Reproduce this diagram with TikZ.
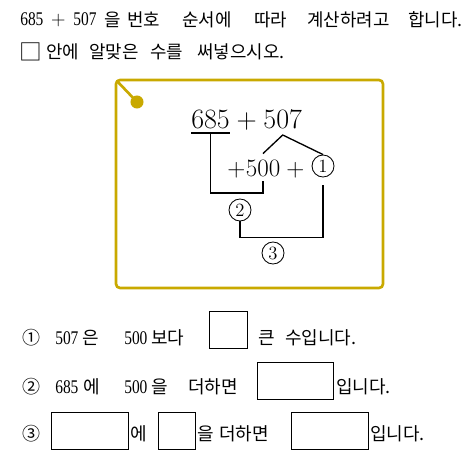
\documentclass[tikz,border=0pt]{standalone}
\usepackage{fontspec}
\newfontfamily\kr{Noto Sans CJK KR}
\newfontfamily\digs[FakeStretch=0.8]{Liberation Serif}
\usetikzlibrary{positioning}
\definecolor{framegold}{RGB}{201,169,0}
\newcommand{\krtop}{\kr\fontsize{13.4}{15}\selectfont}
\newcommand{\krbot}{\kr\fontsize{13.5}{16}\selectfont}
\newcommand{\digtop}{\digs\fontsize{14.5}{17}\selectfont}
\newcommand{\digbot}{\digs\fontsize{14.5}{17}\selectfont}
\newcommand{\plustop}{{\rmfamily\fontsize{15}{17}\selectfont +}}
\newcommand{\bigrow}{\fontsize{21}{25}\selectfont}
\newcommand{\midrow}{\fontsize{18.75}{22}\selectfont}

\begin{document}
\begin{tikzpicture}[x=0.75pt, y=-0.75pt,
    txt/.style={inner sep=0, anchor=west},
    num/.style={inner sep=0, anchor=base west},
    diagline/.style={line width=1pt},
    circnum/.style={circle, draw, line width=0.65pt, inner sep=0, minimum size=16.5pt, font=\fontsize{14}{14}\selectfont},
    ansbox/.style={draw, line width=0.75pt, inner sep=0, minimum height=27.75pt},
    goldframe/.style={draw=framegold, line width=2pt, rounded corners=3pt, inner sep=0, minimum width=200.25pt, minimum height=156pt}]
    \useasboundingbox (0,0) rectangle (473,466);

    % Question text
    \node[txt, font=\digtop] (q685) at (20,19.5) {685\hspace{.4em}\plustop\hspace{.4em}507};
    \foreach \x/\w [count=\i] in {104/을, 127/번호, 182/순서에, 254/따라, 307/계산하려고, 408/합니다.}
        \node[txt, font=\krtop] (qa\i) at (\x,19.5) {\w};
    \node[txt, font=\kr\fontsize{17}{17}\selectfont] (qbox) at (19.5,51.5) {□};
    \foreach \x/\w [count=\i] in {46/안에, 89/알맞은, 150/수를, 197/써넣으시오.}
        \node[txt, font=\krtop] (qb\i) at (\x,52) {\w};

    % Gold frame with pin
    \node[goldframe] (box) at (249.5,184) {};
    \coordinate (pin) at (137,102);
    \draw[framegold, line width=2pt] ([shift={(1.5pt,-1.5pt)}]box.north west) -- (pin);
    \fill[framegold] (pin) circle (4.9pt);

    % Sum 685 + 507
    \node[num, font=\bigrow] (n685) at (191,129) {685};
    \node[num, font=\bigrow, base right=4.65pt of n685] (pa) {+};
    \node[num, font=\bigrow, base right=4.65pt of pa] (n507) {507};

    % Split row +500+(1)
    \node[num, font=\midrow] (pb) at (227,177) {+};
    \node[num, font=\midrow, base right=0pt of pb] (n500) {500};
    \node[num, font=\midrow, base right=4.2pt of n500] (pc) {+};
    \node[circnum] (c1) at (323,166) {1};
    \node[circnum] (c2) at (240,210) {2};
    \node[circnum] (c3) at (273,253) {3};

    % Connecting lines
    \draw[diagline] ([yshift=-3pt]n685.base west) -- ([yshift=-3pt]n685.base east) coordinate[midway] (ul);
    \draw[diagline] (ul) -- ++(0,60) -| ([yshift=-3pt]n500.base);
    \draw[diagline] ([yshift=5pt]n500.north) -- ([yshift=-4.5pt]n507.base) -- (c1.north);
    \draw[diagline] ([yshift=-6pt]c1.south) -- ++(0,52) -| (c2.south);

    % Answer lines
    \foreach \y/\c [count=\i] in {338/①, 387/②, 434/③}
        \node[txt, font=\krbot] (cn\i) at (22,\y) {\c};

    \node[txt, font=\digbot] (a507) at (55,338) {507};
    \node[txt, font=\krbot] (a1) at (82,338) {은};
    \node[txt, font=\digbot] (a500) at (124,338) {500};
    \node[txt, font=\krbot] (a2) at (151,338) {보다};
    \node[ansbox, minimum width=28.5pt] (b1) at (228,329.5) {};
    \node[txt, font=\krbot] (a3) at (258,338) {큰};
    \node[txt, font=\krbot] (a4) at (285,338) {수입니다.};

    \node[txt, font=\digbot] (d685) at (55,387) {685};
    \node[txt, font=\krbot] (d1) at (83,387) {에};
    \node[txt, font=\digbot] (d500) at (124,387) {500};
    \node[txt, font=\krbot] (d2) at (151,387) {을};
    \node[txt, font=\krbot] (d3) at (188,387) {더하면};
    \node[ansbox, minimum width=57pt] (b2) at (295,380.5) {};
    \node[txt, font=\krbot] (d4) at (336,387) {입니다.};

    \node[ansbox, minimum width=57.75pt] (b3) at (89.5,430.5) {};
    \node[txt, font=\krbot] (e1) at (130,434) {에};
    \node[ansbox, minimum width=27.75pt] (b4) at (176.5,430.5) {};
    \node[txt, font=\krbot] (e2) at (197,434) {을};
    \node[txt, font=\krbot] (e3) at (219,434) {더하면};
    \node[ansbox, minimum width=57.75pt] (b5) at (329.5,430.5) {};
    \node[txt, font=\krbot] (e4) at (370,434) {입니다.};
\end{tikzpicture}
\end{document}
